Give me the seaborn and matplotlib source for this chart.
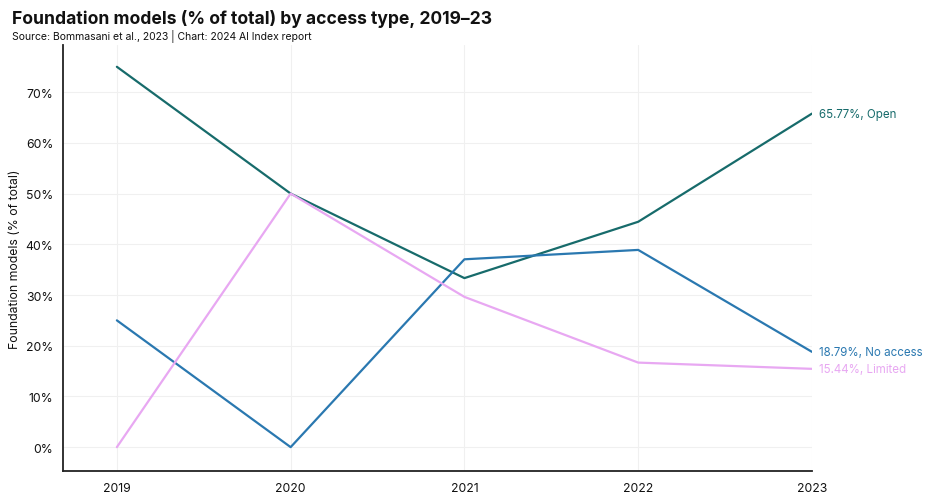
import numpy as np
import pandas as pd
import matplotlib
matplotlib.use("Agg")
import matplotlib.pyplot as plt
import seaborn as sns
from matplotlib.ticker import FuncFormatter

years = [2019, 2020, 2021, 2022, 2023]
open_pct = [75.0, 50.0, 33.33, 44.44, 65.77]
no_access_pct = [25.0, 0.0, 37.04, 38.89, 18.79]
limited_pct = [0.0, 50.0, 29.63, 16.67, 15.44]

series_names = ["Open", "No access", "Limited"]
colors = {"Open": "#176b6b", "No access": "#2a78b0", "Limited": "#e8a8f2"}

df = pd.DataFrame({
    "year": years * 3,
    "pct": open_pct + no_access_pct + limited_pct,
    "access": [n for n in series_names for _ in years],
})

sns.set_theme(style="white")
plt.rcParams['font.family'] = ['Inter', 'DejaVu Sans']

fig = plt.figure(figsize=(9.32, 5.02), dpi=100)
ax = fig.add_axes([0.0676, 0.0598, 0.8036, 0.8486])

sns.lineplot(data=df, x="year", y="pct", hue="access", palette=colors,
             hue_order=series_names, linewidth=1.6, ax=ax, legend=False)

ax.set_xlim(2018.69, 2023.0)
ax.set_ylim(-4.7, 79.3)
ax.set_xticks(years)
ax.set_yticks(range(0, 80, 10))
ax.yaxis.set_major_formatter(FuncFormatter(lambda v, p: f"{v:.0f}%"))
ax.grid(True, color="#f0f0f0", linewidth=0.8)
ax.set_axisbelow(True)

for s in ["top", "right"]:
    ax.spines[s].set_visible(False)
for s in ["left", "bottom"]:
    ax.spines[s].set_color("#222222")
    ax.spines[s].set_linewidth(1.3)

ax.tick_params(axis="both", length=0, labelsize=8.8, colors="#111111")
ax.tick_params(axis="y", pad=7)
ax.tick_params(axis="x", pad=8)
ax.set_xlabel("")
ax.set_ylabel("Foundation models (% of total)", fontsize=8.8, color="#111111",
              labelpad=3)

# end labels
last = {"Open": open_pct[-1], "No access": no_access_pct[-1], "Limited": limited_pct[-1]}
for name in series_names:
    ax.annotate(f"{last[name]:.2f}%, {name}", xy=(years[-1], last[name]),
                xytext=(5, 0), textcoords="offset points", va="center",
                ha="left", fontsize=8.3, color=colors[name], annotation_clip=False)

fig.text(0.013, 0.962, "Foundation models (% of total) by access type, 2019–23",
         fontsize=12.6, fontweight="bold", va="center", color="#111111")
fig.text(0.013, 0.928, "Source: Bommasani et al., 2023 | Chart: 2024 AI Index report",
         fontsize=7.5, va="center", color="#111111")

fig.savefig("out.png", dpi=100)
